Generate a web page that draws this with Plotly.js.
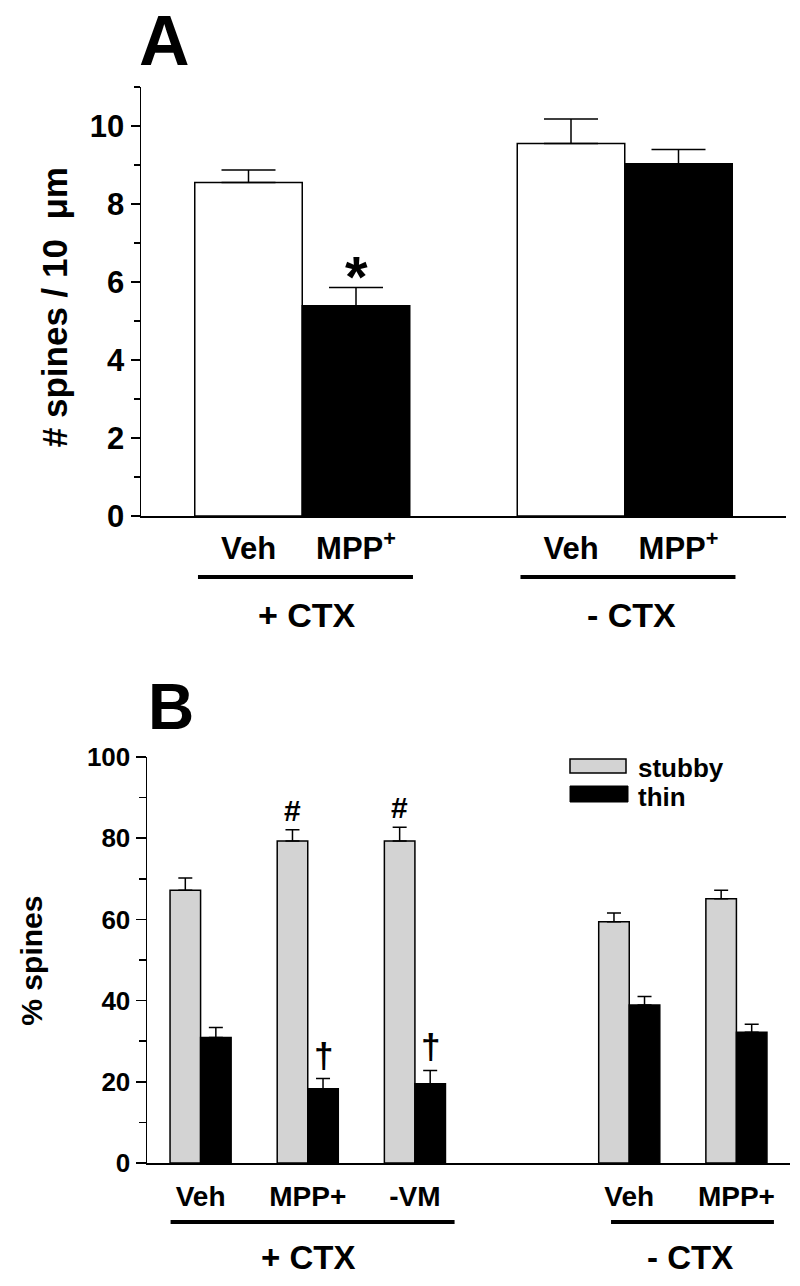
<!DOCTYPE html>
<html><head><meta charset="utf-8">
<script src="https://cdn.plot.ly/plotly-3.0.1.min.js"></script>
<style>html,body{margin:0;padding:0;background:#fff}</style>
</head><body><div id="chart" style="width:800px;height:1286px"></div>
<script>
// ---------- Panel A data ----------
const groupsA = ['+ CTX', '- CTX'];
const conditionsA = ['Veh', 'MPP<sup>+</sup>'];
const treatmentA = ['Veh', 'MPP+', 'Veh', 'MPP+'];
const spinesMean = [8.55, 5.39, 9.55, 9.03];
const spinesSem = [0.32, 0.47, 0.63, 0.37];
const sigA = ['', '*', '', ''];

// ---------- Panel B data ----------
const groupsB = ['+ CTX', '- CTX'];
const conditionsB = [['Veh', 'MPP+', '-VM'], ['Veh', 'MPP+']];
const stubbyMean = [67.2, 79.3, 79.3, 59.4, 65.1];
const stubbySem = [3.0, 2.8, 3.4, 2.2, 2.1];
const thinMean = [30.9, 18.3, 19.5, 38.9, 32.2];
const thinSem = [2.5, 2.5, 3.3, 2.1, 2.0];
const stubbySig = ['', '#', '#', '', ''];
const thinSig = ['', '\u2020', '\u2020', '', ''];

// ---------- derived positions (one empty slot between groups) ----------
const posA = [], labA = [];
groupsA.forEach((g, gi) => conditionsA.forEach((c, ci) => { posA.push(gi * (conditionsA.length + 1) + ci); labA.push(c); }));
const posB = [], labB = [], grpSpanB = [];
let p = 0;
conditionsB.forEach((conds, gi) => {
  const start = p;
  conds.forEach(c => { posB.push(p); labB.push(c); p++; });
  grpSpanB.push([start, p - 1]);
  p++;
});
const grpSpanA = groupsA.map((g, gi) => [gi * (conditionsA.length + 1), gi * (conditionsA.length + 1) + conditionsA.length - 1]);

const FONT = 'Liberation Sans, Arial, Helvetica, sans-serif';
const BARGAP = 0.43;
const halfBar = (1 - BARGAP) / 4; // offset of each bar in a 2-bar group

const traces = [
  {
    type: 'bar', x: posA, y: spinesMean, width: 1, xaxis: 'x', yaxis: 'y',
    name: 'spines', showlegend: false,
    marker: { color: treatmentA.map(t => t === 'Veh' ? '#ffffff' : '#000000'), line: { color: '#000', width: 1.5 } },
    error_y: { type: 'data', symmetric: false, array: spinesSem, arrayminus: spinesSem.map(() => 0), color: '#000', thickness: 1.5, width: 27 },
    hoverinfo: 'none'
  },
  {
    type: 'bar', x: posB, y: stubbyMean, xaxis: 'x2', yaxis: 'y2', name: 'stubby', showlegend: false,
    marker: { color: '#d3d3d3', line: { color: '#000', width: 1.5 } },
    error_y: { type: 'data', symmetric: false, array: stubbySem, arrayminus: stubbySem.map(() => 0), color: '#000', thickness: 1.5, width: 7 },
    hoverinfo: 'none'
  },
  {
    type: 'bar', x: posB, y: thinMean, xaxis: 'x2', yaxis: 'y2', name: 'thin', showlegend: false,
    marker: { color: '#000000', line: { color: '#000', width: 1.5 } },
    error_y: { type: 'data', symmetric: false, array: thinSem, arrayminus: thinSem.map(() => 0), color: '#000', thickness: 1.5, width: 7 },
    hoverinfo: 'none'
  }
];

const annotations = [];
const shapes = [];
const txt = (o) => Object.assign({ showarrow: false, font: { family: FONT, size: 30, color: '#000', weight: 700 } }, o);

// panel letters
annotations.push(txt({ text: 'A', xref: 'paper', yref: 'paper', x: 0.206, y: 1, xanchor: 'center', yanchor: 'top', font: { family: FONT, size: 70, color: '#000', weight: 700 } }));
annotations.push(txt({ text: 'B', xref: 'paper', yref: 'paper', x: 0.214, y: 0.4502, xanchor: 'center', yanchor: 'middle', font: { family: FONT, size: 64, color: '#000', weight: 700 } }));

// y titles
annotations.push(txt({ text: '#\u00a0spines\u00a0/\u00a010\u00a0\u00a0\u03bcm', xref: 'paper', yref: 'paper', x: 0.069, y: 0.7613, textangle: -90, xanchor: 'center', yanchor: 'middle', font: { family: FONT, size: 35, color: '#000', weight: 700 } }));
annotations.push(txt({ text: '%\u00a0spines', xref: 'paper', yref: 'paper', x: 0.04, y: 0.253, textangle: -90, xanchor: 'center', yanchor: 'middle', font: { family: FONT, size: 30, color: '#000', weight: 700 } }));

// significance marks
sigA.forEach((s, i) => { if (s) annotations.push(txt({ text: s, xref: 'x', yref: 'y', x: posA[i], y: spinesMean[i] + spinesSem[i], yanchor: 'bottom', yshift: -24, font: { family: FONT, size: 58, color: '#000', weight: 700 } })); });
stubbySig.forEach((s, i) => { if (s) annotations.push(txt({ text: s, xref: 'x2', yref: 'y2', x: posB[i] - halfBar, y: stubbyMean[i] + stubbySem[i], yanchor: 'bottom', yshift: 1, font: { family: FONT, size: 30, color: '#000', weight: 700 } })); });
thinSig.forEach((s, i) => { if (s) annotations.push(txt({ text: s, xref: 'x2', yref: 'y2', x: posB[i] + halfBar, y: thinMean[i] + thinSem[i], yanchor: 'bottom', yshift: 2, font: { family: FONT, size: 35, color: '#000', weight: 700 } })); });

// group underlines & labels
const labShiftA = [0.04, 0.06];
groupsA.forEach((g, gi) => {
  const [a, b] = grpSpanA[gi];
  shapes.push({ type: 'line', xref: 'x', yref: 'paper', x0: a - 0.47, x1: b + 0.53, y0: 0.5513, y1: 0.5513, line: { color: '#000', width: 4 } });
  annotations.push(txt({ text: g, xref: 'x', yref: 'paper', x: (a + b) / 2 + labShiftA[gi], y: 0.5218, xanchor: 'center', yanchor: 'middle', font: { family: FONT, size: 34, color: '#000', weight: 700 } }));
});
const padB = [[-0.28, 0.37], [-0.17, 0.35]];
groupsB.forEach((g, gi) => {
  const [a, b] = grpSpanB[gi];
  shapes.push({ type: 'line', xref: 'x2', yref: 'paper', x0: a + padB[gi][0], x1: b + padB[gi][1], y0: 0.0498, y1: 0.0498, line: { color: '#000', width: 4 } });
  annotations.push(txt({ text: g, xref: 'x2', yref: 'paper', x: (a + b) / 2 + (gi === 1 ? 0.07 : 0), y: 0.0218, xanchor: 'center', yanchor: 'middle', font: { family: FONT, size: 33, color: '#000', weight: 700 } }));
});

// legend (drawn)
shapes.push({ type: 'rect', xref: 'paper', yref: 'paper', x0: 570 / 800, x1: 626 / 800, y0: 1 - 773 / 1286, y1: 1 - 759 / 1286, fillcolor: '#d3d3d3', line: { color: '#000', width: 1.5 } });
shapes.push({ type: 'rect', xref: 'paper', yref: 'paper', x0: 570 / 800, x1: 628 / 800, y0: 1 - 802 / 1286, y1: 1 - 786 / 1286, fillcolor: '#000', line: { color: '#000', width: 1 } });
annotations.push(txt({ text: traces[1].name, xref: 'paper', yref: 'paper', x: 636 / 800, y: 1 - 768 / 1286, xanchor: 'left', yanchor: 'middle', font: { family: FONT, size: 26, color: '#000', weight: 700 } }));
annotations.push(txt({ text: traces[2].name, xref: 'paper', yref: 'paper', x: 636 / 800, y: 1 - 797 / 1286, xanchor: 'left', yanchor: 'middle', font: { family: FONT, size: 26, color: '#000', weight: 700 } }));

const axisBase = {
  showline: true, linecolor: '#000', linewidth: 1.5, showgrid: false, zeroline: false, fixedrange: true,
  tickcolor: '#000', tickwidth: 1.5
};

const layout = {
  width: 800, height: 1286,
  margin: { l: 0, r: 0, t: 0, b: 0 },
  paper_bgcolor: '#fff', plot_bgcolor: 'rgba(0,0,0,0)',
  barmode: 'group', bargap: BARGAP, bargroupgap: 0,
  showlegend: false,
  font: { family: FONT, color: '#000' },
  xaxis: Object.assign({}, axisBase, {
    domain: [141 / 800, 786 / 800], range: [-1, 5], anchor: 'y',
    tickmode: 'array', tickvals: posA, ticktext: labA,
    ticks: 'outside', ticklen: 4, tickcolor: 'rgba(0,0,0,0)',
    tickfont: { family: FONT, size: 31, color: '#000', weight: 700 }
  }),
  yaxis: Object.assign({}, axisBase, {
    domain: [1 - 516 / 1286, 1 - 87 / 1286], range: [0, 11], anchor: 'x',
    tickmode: 'linear', tick0: 0, dtick: 2, ticks: 'outside', ticklen: 9,
    minor: { tick0: 0, dtick: 1, ticks: 'outside', ticklen: 6, tickcolor: '#000', tickwidth: 1.5, showgrid: false },
    tickfont: { family: FONT, size: 31, color: '#000', weight: 700 }
  }),
  xaxis2: Object.assign({}, axisBase, {
    domain: [147 / 800, 790 / 800], range: [-0.5, 5.5], anchor: 'y2',
    tickmode: 'array', tickvals: posB, ticktext: labB,
    ticks: 'outside', ticklen: 8, tickcolor: 'rgba(0,0,0,0)',
    tickfont: { family: FONT, size: 28, color: '#000', weight: 700 }
  }),
  yaxis2: Object.assign({}, axisBase, {
    domain: [1 - 1163 / 1286, 1 - 757 / 1286], range: [0, 100], anchor: 'x2',
    tickmode: 'linear', tick0: 0, dtick: 20, ticks: 'outside', ticklen: 10,
    minor: { tick0: 0, dtick: 10, ticks: 'outside', ticklen: 7, tickcolor: '#000', tickwidth: 1.5, showgrid: false },
    tickfont: { family: FONT, size: 26, color: '#000', weight: 700 }
  }),
  annotations: annotations,
  shapes: shapes
};

Plotly.newPlot('chart', traces, layout, { displayModeBar: false, staticPlot: true });
</script>
</body></html>
